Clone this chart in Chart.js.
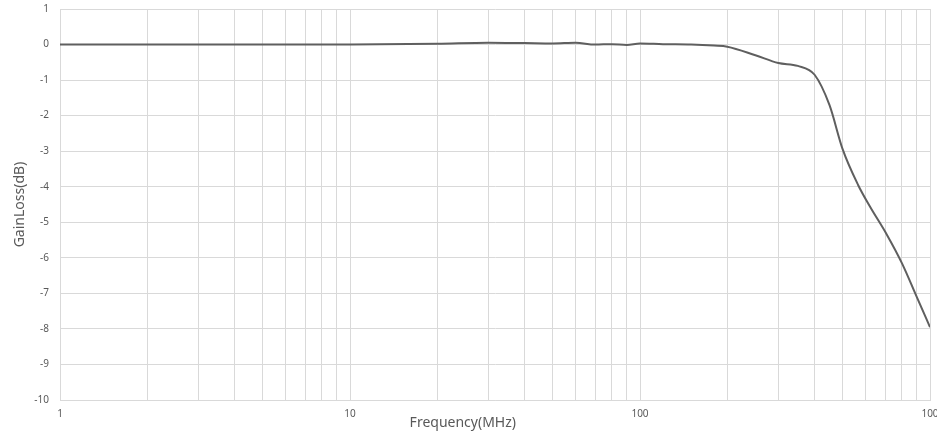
<!DOCTYPE html>
<html>
<head>
<meta charset="utf-8">
<script src="https://cdn.jsdelivr.net/npm/chart.js@4"></script>
<style>
  html, body { margin: 0; padding: 0; background: #fff; overflow: hidden; }
  #wrap { width: 937px; height: 434px; }
</style>
</head>
<body>
<div id="wrap"><canvas id="chart"></canvas></div>
<script>
// frequency in MHz and gain loss in dB
const freqs = [1, 2, 3, 4, 5, 6, 7, 8, 9, 10, 20, 30, 40, 50, 60, 70, 80, 90, 100,
    120, 150, 180, 200, 250, 300, 350, 400, 450, 500, 565, 620, 710, 800, 900, 1000];
const gains = [0, 0, 0, 0, 0, 0, 0, 0, 0, 0, 0.02, 0.05, 0.04, 0.03, 0.05, 0.0, 0.01, -0.01, 0.03,
    0.01, 0.0, -0.03, -0.06, -0.3, -0.52, -0.6, -0.85, -1.7, -2.95, -3.95, -4.55, -5.35, -6.15, -7.1, -7.95];

const xMajor = [1, 10, 100, 1000];
const xMajorLabels = ['1', '10', '100', '100'];
const yMin = -10;
const yMax = 1;

const points = freqs.map((f, i) => ({ x: f, y: gains[i] }));

const textColor = '#595959';
const gridColor = '#d9d9d9';
const fontFamily = '"Noto Sans", "Open Sans", sans-serif';

// x axis title sits a bit left of centre in the original
const xTitlePlugin = {
    id: 'xTitle',
    afterDraw(chart) {
        const ctx = chart.ctx;
        const area = chart.chartArea;
        ctx.save();
        ctx.font = '14px ' + fontFamily;
        ctx.fillStyle = textColor;
        ctx.textAlign = 'center';
        ctx.textBaseline = 'middle';
        ctx.fillText('Frequency(MHz)', area.left + (area.right - area.left) * 0.463, area.bottom + 23);
        ctx.restore();
    }
};

new Chart('chart', {
    type: 'line',
    data: {
        datasets: [{
            data: points,
            borderColor: '#5f5f5f',
            borderWidth: 2,
            pointRadius: 0,
            fill: false,
            cubicInterpolationMode: 'monotone'
        }]
    },
    options: {
        responsive: true,
        maintainAspectRatio: false,
        animation: false,
        layout: {
            padding: { top: 9, right: 7, left: 0, bottom: 0 }
        },
        plugins: {
            legend: { display: false },
            tooltip: { enabled: false }
        },
        scales: {
            x: {
                type: 'logarithmic',
                min: 1,
                max: 1000,
                afterBuildTicks(scale) {
                    const ticks = [];
                    for (let d = 1; d < 1000; d *= 10) {
                        for (let m = 1; m < 10; m++) ticks.push({ value: m * d });
                    }
                    ticks.push({ value: 1000 });
                    scale.ticks = ticks;
                },
                afterFit(scale) {
                    scale.height = 34;
                    scale.paddingRight = 0;
                    scale.paddingLeft = 0;
                },
                grid: {
                    color: gridColor,
                    drawTicks: false
                },
                border: { color: gridColor },
                ticks: {
                    autoSkip: false,
                    maxRotation: 0,
                    padding: 8,
                    color: textColor,
                    font: { family: fontFamily, size: 10 },
                    callback: function (value) {
                        const idx = xMajor.indexOf(value);
                        return idx >= 0 ? xMajorLabels[idx] : '';
                    }
                }
            },
            y: {
                min: yMin,
                max: yMax,
                afterFit(scale) {
                    scale.width = 60;
                    scale.paddingTop = 0;
                    scale.paddingBottom = 0;
                },
                grid: {
                    color: gridColor,
                    drawTicks: false
                },
                border: { color: gridColor },
                ticks: {
                    stepSize: 1,
                    padding: 11,
                    color: textColor,
                    font: { family: fontFamily, size: 10 }
                },
                title: {
                    display: true,
                    text: 'GainLoss(dB)',
                    color: textColor,
                    font: { family: fontFamily, size: 14 },
                    padding: { top: 12, bottom: 0 }
                }
            }
        }
    },
    plugins: [xTitlePlugin]
});
</script>
</body>
</html>
